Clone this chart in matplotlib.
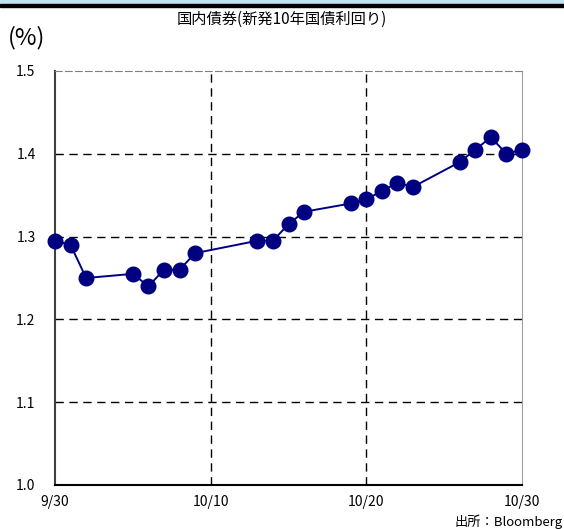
import matplotlib
matplotlib.use('Agg')
import matplotlib.pyplot as plt
import pandas as pd

plt.rcParams['font.family'] = ['Noto Sans CJK JP', 'DejaVu Sans']

# 10-year JGB yield (%)
dates = ['2014-09-30', '2014-10-01', '2014-10-02', '2014-10-05', '2014-10-06',
         '2014-10-07', '2014-10-08', '2014-10-09', '2014-10-13', '2014-10-14',
         '2014-10-15', '2014-10-16', '2014-10-19', '2014-10-20', '2014-10-21',
         '2014-10-22', '2014-10-23', '2014-10-26', '2014-10-27', '2014-10-28',
         '2014-10-29', '2014-10-30']
yields = [1.295, 1.29, 1.25, 1.255, 1.24, 1.26, 1.26, 1.28, 1.295, 1.295,
          1.315, 1.33, 1.34, 1.345, 1.355, 1.365, 1.36, 1.39, 1.405, 1.42,
          1.40, 1.405]
xtick_dates = ['2014-09-30', '2014-10-10', '2014-10-20', '2014-10-30']
xtick_labels = ['9/30', '10/10', '10/20', '10/30']
yticks = [1.0, 1.1, 1.2, 1.3, 1.4, 1.5]

x = pd.to_datetime(dates)
xt = pd.to_datetime(xtick_dates)

fig = plt.figure(figsize=(5.64, 5.29), dpi=100)

# header band
fig.patches.append(plt.Rectangle((0, 1 - 4 / 529), 1, 4 / 529, transform=fig.transFigure,
                                 color='#bfe3f5', zorder=0))
fig.patches.append(plt.Rectangle((0, 1 - 7 / 529), 1, 3 / 529, transform=fig.transFigure,
                                 color='black', zorder=0))

ax = fig.add_axes([55 / 564, 44 / 529, 467 / 564, 414 / 529])

ax.plot(x, yields, color='#000080', lw=1.4, marker='o', ms=10.5, zorder=3, clip_on=False)

ax.set_xlim(xt[0], xt[-1])
ax.set_ylim(1.0, 1.5)
ax.set_xticks(xt)
ax.set_xticklabels(xtick_labels, fontsize=10)
ax.set_yticks(yticks)
ax.set_yticklabels([f'{v:.1f}' for v in yticks], fontsize=10)
ax.tick_params(axis='x', length=0, pad=7)
ax.tick_params(axis='y', length=0, pad=14)

for v in yticks[1:-1]:
    ax.axhline(v, color='black', lw=1, ls=(0, (6, 4)), zorder=1)
for d in xt[1:-1]:
    ax.axvline(d, color='black', lw=1, ls=(0, (6, 4)), zorder=1)

ax.spines['top'].set_color('#808080')
ax.spines['top'].set_linestyle((0, (6, 3)))
ax.spines['right'].set_color('#a0a0a0')
ax.spines['left'].set_color('#404040')
ax.spines['left'].set_linewidth(1.5)
ax.spines['bottom'].set_color('black')
ax.spines['bottom'].set_linewidth(1.5)

fig.text(0.50, 1 - 19 / 529, '国内債券(新発10年国債利回り)', ha='center', va='center', fontsize=11)
fig.text(8 / 564, 1 - 38 / 529, '(%)', ha='left', va='center', fontsize=17)
fig.text(455 / 564, 1 - 522 / 529, '出所：Bloomberg', ha='left', va='center', fontsize=9.5)

fig.savefig('out.png', dpi=100)
